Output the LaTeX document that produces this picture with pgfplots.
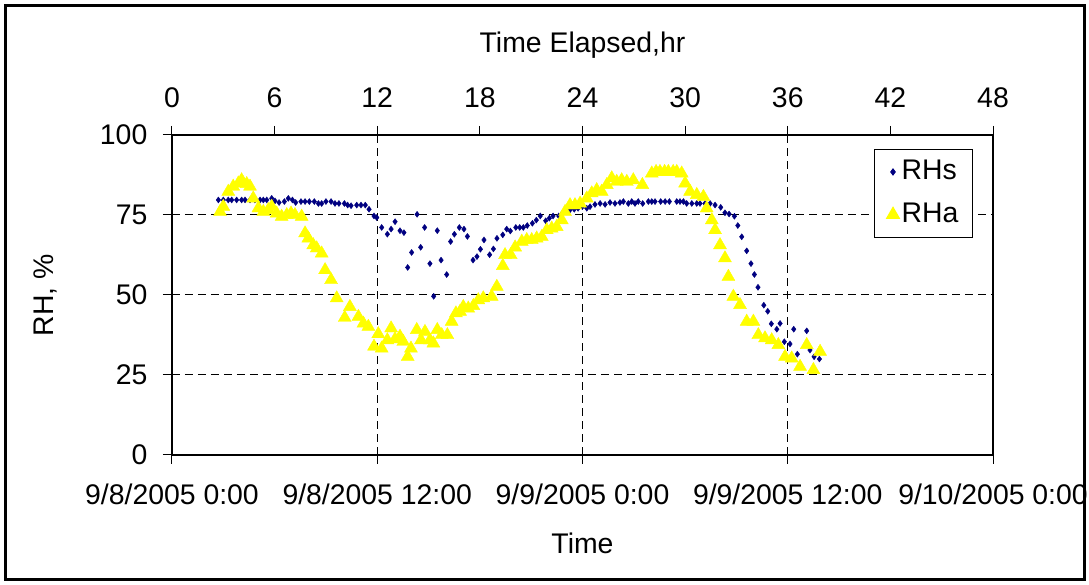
\documentclass[border=0pt]{standalone}
\usepackage{pgfplots}
\pgfplotsset{compat=1.18}
\usepackage{fontspec}
\setmainfont{Liberation Sans}
\definecolor{navy}{RGB}{0,0,128}
\definecolor{yel}{RGB}{255,255,0}
\pgfplotstableread{
hr rh
2.71 79.7
3.00 79.7
3.29 79.7
3.49 79.7
3.78 79.7
4.07 79.7
4.27 79.7
4.56 79.7
4.85 79.7
5.15 79.7
5.34 79.7
5.54 79.7
5.83 80.2
6.02 79.4
6.26 78.9
6.57 79.2
6.80 80.2
7.04 79.7
7.23 78.9
7.54 79.2
7.78 79.2
8.03 79.2
8.32 79.2
8.56 78.6
8.75 78.6
9.00 79.2
9.30 79.2
9.53 78.6
9.76 78.6
10.08 78.6
10.27 78.1
10.47 77.9
10.80 78.1
11.05 78.1
11.30 78.1
11.52 76.8
11.81 74.7
11.97 74.2
12.26 71.1
12.59 69.0
12.81 70.6
13.04 72.9
13.33 70.1
13.56 69.5
13.78 58.6
14.01 63.3
14.33 75.2
14.54 64.9
14.77 71.1
15.08 59.8
15.30 49.6
15.51 70.1
15.73 60.9
16.06 56.4
16.29 66.7
16.51 69.0
16.80 71.1
17.07 70.6
17.27 68.3
17.60 60.9
17.83 62.0
18.03 64.3
18.24 67.2
18.57 62.6
18.79 64.4
19.00 67.7
19.34 68.8
19.57 70.6
19.78 70.0
20.10 71.1
20.33 71.1
20.54 71.1
20.77 71.7
21.07 72.4
21.30 73.4
21.53 74.7
21.85 73.2
22.06 74.0
22.28 74.7
22.61 74.7
22.84 75.7
23.07 76.0
23.27 76.6
23.52 76.8
23.74 77.1
23.99 77.6
24.25 77.1
24.44 77.6
24.73 78.3
25.03 78.6
25.32 78.3
25.61 78.9
25.90 78.6
26.19 78.9
26.39 79.2
26.68 78.6
26.88 79.2
27.07 78.6
27.26 79.2
27.52 78.6
27.85 79.2
28.05 79.2
28.24 79.2
28.57 79.2
28.83 79.2
29.08 79.2
29.51 79.2
29.70 79.2
29.90 79.2
30.09 78.6
30.39 78.6
30.68 78.6
30.87 78.6
31.16 78.6
31.46 78.6
31.75 78.1
32.08 77.4
32.33 75.7
32.57 75.3
32.88 74.6
33.08 71.7
33.31 68.2
33.60 63.8
33.85 59.8
34.05 56.4
34.26 52.4
34.60 46.8
34.83 44.9
35.04 41.0
35.36 39.3
35.55 41.1
35.80 35.4
36.13 34.7
36.35 39.3
36.56 31.5
37.11 38.8
37.30 32.8
37.54 30.7
37.85 30.0
}\rhs
\pgfplotstableread{
hr rh
2.81 76.0
3.00 77.6
3.29 82.3
3.58 83.9
3.88 84.9
4.07 85.9
4.37 84.7
4.56 83.9
4.75 80.2
5.05 77.1
5.34 76.0
5.63 76.6
5.83 77.6
6.12 75.5
6.41 74.5
6.71 75.0
6.96 75.5
7.19 75.0
7.58 74.5
7.78 69.3
7.97 67.7
8.26 65.6
8.46 64.6
8.75 63.0
8.95 57.8
9.30 54.7
9.63 49.0
10.10 42.9
10.40 46.3
10.90 43.2
11.19 41.1
11.48 40.1
11.81 33.9
12.06 37.8
12.26 33.3
12.59 35.9
12.81 39.6
13.04 36.2
13.33 37.0
13.52 35.4
13.78 30.7
13.97 33.3
14.31 39.1
14.56 35.9
14.79 38.5
15.08 35.9
15.28 34.9
15.51 39.1
15.77 37.5
16.10 37.5
16.35 41.7
16.60 44.3
16.84 44.8
17.03 46.3
17.32 45.8
17.62 46.6
17.91 48.4
18.20 49.0
18.69 49.5
18.99 52.6
19.34 59.1
19.47 62.5
19.80 62.5
20.06 64.9
20.45 66.7
20.74 67.2
21.03 67.2
21.32 67.7
21.62 68.2
21.91 70.3
22.20 70.8
22.49 71.3
22.79 73.4
22.98 76.0
23.27 78.1
23.56 78.1
23.86 78.6
24.25 80.2
24.54 81.8
24.83 82.8
25.12 82.3
25.42 84.4
25.71 86.5
26.00 85.4
26.29 85.9
26.59 85.4
26.97 85.9
27.50 84.4
28.05 88.0
28.30 88.5
28.53 88.5
28.80 88.5
29.02 88.5
29.30 88.5
29.51 88.5
29.80 88.0
30.00 84.9
30.29 82.3
30.68 81.3
31.07 80.7
31.26 77.1
31.56 73.4
31.75 70.3
32.04 65.6
32.33 61.5
32.53 55.7
32.82 49.5
33.21 46.9
33.60 41.7
33.99 41.7
34.28 37.5
34.67 36.5
35.06 35.9
35.45 34.4
35.84 30.7
36.23 30.2
36.72 27.6
37.11 34.4
37.50 26.6
37.89 32.3
}\rha
\begin{document}
\fontsize{28.5}{34}\selectfont
\begin{tikzpicture}[x=1bp,y=1bp]
\useasboundingbox (-172,-130) rectangle (917,455);
\draw[line width=3bp] (-166,-125) rectangle (912,449);
\begin{axis}[
  at={(0,0)}, anchor=south west,
  width=821bp, height=320bp, scale only axis,
  xmin=0, xmax=48, ymin=0, ymax=100,
  xtick={0,12,24,36,48},
  xticklabels={9/8/2005 0:00,9/8/2005 12:00,9/9/2005 0:00,9/9/2005 12:00,9/10/2005 0:00},
  ytick={0,25,50,75,100},
  xtick pos=left, ytick pos=left,
  tick align=outside, major tick length=9bp,
  every tick/.style={black, line width=1bp},
  axis line style={line width=1.5bp},
  xmajorgrids, ymajorgrids,
  grid style={black, line width=1bp, dash pattern=on 8bp off 5bp},
  /pgf/number format/assume math mode=true,
  every tick label/.append style={font=\fontsize{28.5}{34}\selectfont},
  xticklabel style={anchor=base, yshift=-40bp},
  yticklabel style={xshift=-6bp},
  xlabel={Time}, ylabel={RH, \%},
  label style={font=\fontsize{28.5}{34}\selectfont},
  xlabel style={at={(axis description cs:0.5,0)}, anchor=center, yshift=-88bp},
  ylabel style={at={(axis description cs:0,0.5)}, anchor=center, rotate=0, yshift=127bp},
  legend style={at={(0.976,0.956)}, anchor=north east, draw=black, line width=1bp,
    font=\fontsize{28.5}{34}\selectfont, inner xsep=12.5bp, inner ysep=8.5bp, row sep=15bp},
  legend cell align=left,
  legend image code/.code={\draw[#1,mark repeat=2,mark phase=2] plot coordinates {(0bp,0bp)(10bp,0bp)(26bp,0bp)};},
]
\addplot[only marks, mark=diamond*, mark size=3bp, color=navy] table[x=hr,y=rh] {\rhs};
\addlegendentry{RHs}
\addplot[only marks, mark=triangle*, mark size=7.5bp, draw=yel, fill=yel] table[x=hr,y=rh] {\rha};
\addlegendentry{RHa}
\end{axis}
\begin{axis}[
  at={(0,0)}, anchor=south west,
  width=821bp, height=320bp, scale only axis,
  xmin=0, xmax=48, ymin=0, ymax=100,
  axis x line*=top, axis y line=none,
  xtick={0,6,...,48},
  tick align=outside, major tick length=9bp,
  every tick/.style={black, line width=1bp},
  axis line style={line width=1.5bp},
  /pgf/number format/assume math mode=true,
  every tick label/.append style={font=\fontsize{28.5}{34}\selectfont},
  xticklabel style={yshift=9bp},
  xlabel={Time Elapsed,hr},
  label style={font=\fontsize{28.5}{34}\selectfont},
  xlabel style={at={(axis description cs:0.5,1)}, anchor=center, yshift=90bp},
]
\end{axis}
\end{tikzpicture}
\end{document}
